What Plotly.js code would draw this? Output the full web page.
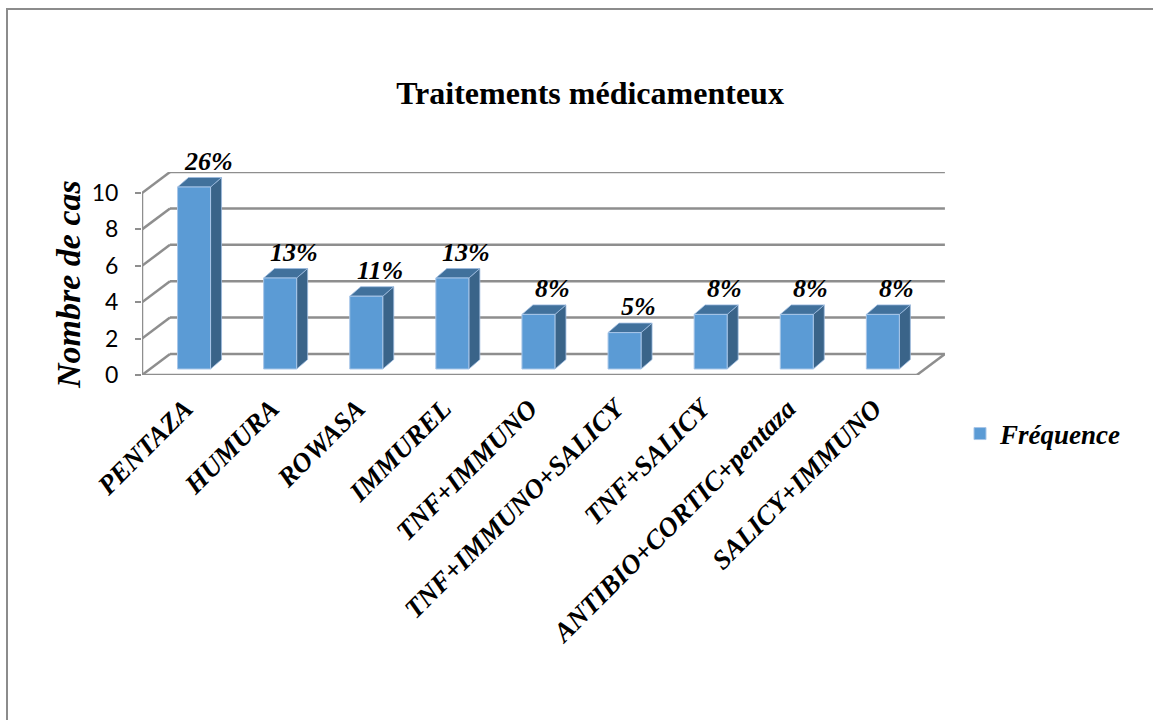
<!DOCTYPE html>
<html>
<head>
<meta charset="utf-8">
<script src="https://cdn.plot.ly/plotly-3.0.1.min.js"></script>
<style>html,body{margin:0;padding:0;background:#fff;}#chart{width:1153px;height:720px;}</style>
</head>
<body>
<div id="chart"></div>
<script>
// ---- data ----
const categories = ['PENTAZA', 'HUMURA', 'ROWASA', 'IMMUREL', 'TNF+IMMUNO', 'TNF+IMMUNO+SALICY', 'TNF+SALICY', 'ANTIBIO+CORTIC+pentaza', 'SALICY+IMMUNO'];
const counts = [10, 5, 4, 5, 3, 2, 3, 3, 3];
const pctLabels = ['26%', '13%', '11%', '13%', '8%', '5%', '8%', '8%', '8%'];
const yTicks = [0, 2, 4, 6, 8, 10];
const seriesName = 'Fréquence';
const chartTitle = 'Traitements médicamenteux';
const yTitle = 'Nombre de cas';

// ---- geometry (pixels, style only) ----
const W = 1153, H = 720;
const plotL = 142, plotR = 945, plotT = 172, plotB = 375;
const catPx = 86.1, unitPx = 18.2;
const wallDx = 28, wallDy = 21;      // depth of the 3D box
const barDx = 9, barDy = 6;          // position of bar front face inside the box
const barW = 33;                     // bar front width
const sideDx = 11, sideDy = 9.5;     // bar depth

const xRange = [-0.5, -0.5 + (plotR - plotL) / catPx];
const yRange = [0, (plotB - plotT) / unitPx];
const ux = px => px / catPx, uy = px => px / unitPx;
const px2paperX = px => (px - plotL) / (plotR - plotL);
const px2paperY = py => (plotB - py) / (plotB - plotT);

const idx = categories.map((_, i) => i);
const yMax = yTicks[yTicks.length - 1];
const nCat = categories.length;

const gridColor = '#8E8E8E';
const shapes = [];
// back wall gridlines + left wall diagonals
yTicks.forEach(t => {
  shapes.push({type: 'line', xref: 'x', yref: 'y', layer: 'below',
    x0: -0.5 + ux(wallDx), x1: nCat - 0.5 + ux(wallDx), y0: t + uy(wallDy), y1: t + uy(wallDy),
    line: {color: gridColor, width: 2.5}});
  shapes.push({type: 'line', xref: 'x', yref: 'y', layer: 'below',
    x0: -0.5, x1: -0.5 + ux(wallDx), y0: t, y1: t + uy(wallDy),
    line: {color: gridColor, width: 2.5}});
});
// front edge of left wall
shapes.push({type: 'line', xref: 'x', yref: 'y', layer: 'below',
  x0: -0.5, x1: -0.5, y0: 0, y1: yMax, line: {color: gridColor, width: 2.5}});
// floor front edge and right edge
shapes.push({type: 'line', xref: 'x', yref: 'y', layer: 'below',
  x0: -0.5, x1: nCat - 0.5, y0: 0, y1: 0, line: {color: gridColor, width: 2.5}});
shapes.push({type: 'line', xref: 'x', yref: 'y', layer: 'below',
  x0: nCat - 0.5, x1: nCat - 0.5 + ux(wallDx), y0: 0, y1: uy(wallDy), line: {color: gridColor, width: 2.5}});

// bar 3D faces
const base = uy(barDy);
const offL = ux(barDx) - ux(barW) / 2;
counts.forEach((v, i) => {
  const xl = i + offL, xr = xl + ux(barW);
  const yb = base, yt = base + v;
  const sx = ux(sideDx), sy = uy(sideDy);
  shapes.push({type: 'path', xref: 'x', yref: 'y', layer: 'below',
    path: `M${xr},${yb} L${xr},${yt} L${xr + sx},${yt + sy} L${xr + sx},${yb + sy} Z`,
    fillcolor: '#3A6489', line: {color: '#9DBBE0', width: 0.8}});
  shapes.push({type: 'path', xref: 'x', yref: 'y', layer: 'below',
    path: `M${xl},${yt} L${xr},${yt} L${xr + sx},${yt + sy} L${xl + sx},${yt + sy} Z`,
    fillcolor: '#41719C', line: {color: '#9DBBE0', width: 0.8}});
});

// chart border (only left and top edges fall inside the picture)
shapes.push({type: 'rect', xref: 'paper', yref: 'paper', layer: 'below',
  x0: px2paperX(7), x1: px2paperX(1170),
  y0: px2paperY(740), y1: px2paperY(9),
  line: {color: '#8C8C8C', width: 2}, fillcolor: 'rgba(0,0,0,0)'});

const serifBI = {family: '"Liberation Serif", "Times New Roman", serif', weight: 'bold', style: 'italic', color: '#000'};

const annotations = counts.map((v, i) => ({
  x: i + ux(barDx) + ux(sideDx) + ux(3), y: base + v + uy(sideDy),
  xref: 'x', yref: 'y', text: pctLabels[i], showarrow: false,
  xanchor: 'center', yanchor: 'bottom', yshift: 0,
  font: Object.assign({}, serifBI, {size: 26})
}));
// y-axis title
annotations.push({
  x: px2paperX(68), y: px2paperY(285), xref: 'paper', yref: 'paper',
  text: yTitle, textangle: -90, showarrow: false, xanchor: 'center', yanchor: 'middle',
  font: Object.assign({}, serifBI, {size: 34})
});

const trace = {
  type: 'bar', name: seriesName,
  x: idx, y: counts, base: base,
  offset: offL, width: ux(barW),
  marker: {color: '#5B9BD5', line: {color: '#A8C6E8', width: 1}},
  hoverinfo: 'none', showlegend: true
};

const layout = {
  width: W, height: H,
  paper_bgcolor: '#fff', plot_bgcolor: 'rgba(0,0,0,0)',
  margin: {l: plotL, r: W - plotR, t: plotT, b: H - plotB, pad: 0},
  title: {text: chartTitle, x: 590 / W, xanchor: 'center', y: 1 - 93 / H, yanchor: 'middle',
    font: {family: '"Liberation Serif", "Times New Roman", serif', size: 32, weight: 'bold', color: '#000'}},
  xaxis: {range: xRange, tickvals: idx, ticktext: categories, tickangle: -45,
    showgrid: false, zeroline: false, showline: false,
    ticks: 'outside', ticklen: 6, tickcolor: 'rgba(0,0,0,0)',
    tickfont: Object.assign({}, serifBI, {size: 27}), fixedrange: true},
  yaxis: {range: yRange, tickvals: yTicks, showgrid: false, zeroline: false, showline: false,
    ticks: 'outside', ticklen: 6, tickwidth: 2, tickcolor: gridColor, ticklabelstandoff: 12,
    tickfont: {family: 'Lato, "Open Sans", sans-serif', size: 23, color: '#000'},
    fixedrange: true},
  showlegend: true,
  legend: {x: px2paperX(960), xanchor: 'left', y: px2paperY(434), yanchor: 'middle',
    font: Object.assign({}, serifBI, {size: 27}), bgcolor: 'rgba(0,0,0,0)'},
  shapes: shapes,
  annotations: annotations,
  bargap: 0
};

Plotly.newPlot('chart', [trace], layout, {displayModeBar: false, staticPlot: true});
</script>
</body>
</html>
